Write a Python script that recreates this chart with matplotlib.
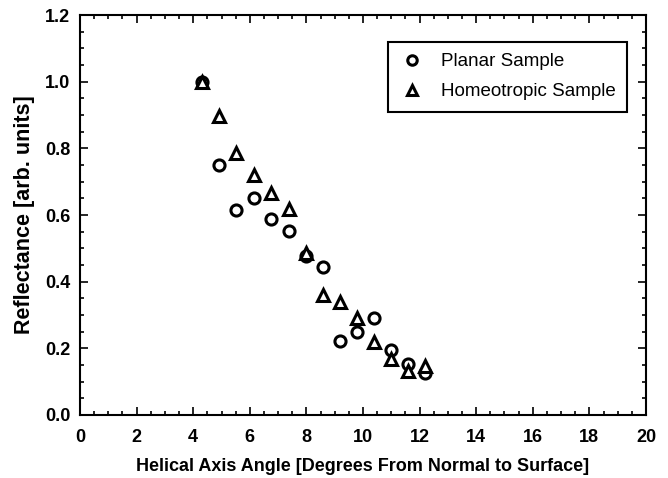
import numpy as np
import matplotlib
matplotlib.use("Agg")
import matplotlib.pyplot as plt
from matplotlib.ticker import MultipleLocator

plt.rcParams['font.family'] = ['Liberation Sans', 'DejaVu Sans']

# data
planar_x = [4.3, 4.9, 5.5, 6.15, 6.75, 7.4, 8.0, 8.6, 9.2, 9.8, 10.4, 11.0, 11.6, 12.2]
planar_y = [1.0, 0.75, 0.615, 0.65, 0.587, 0.552, 0.477, 0.443, 0.223, 0.248, 0.29, 0.194, 0.153, 0.127]

homeo_x = [4.3, 4.9, 5.5, 6.15, 6.75, 7.4, 8.0, 8.6, 9.2, 9.8, 10.4, 11.0, 11.6, 12.2]
homeo_y = [1.0, 0.898, 0.787, 0.72, 0.667, 0.618, 0.487, 0.359, 0.339, 0.29, 0.22, 0.168, 0.133, 0.148]

fig = plt.figure(figsize=(6.68, 4.78), dpi=100)
ax = fig.add_axes([0.1198, 0.1318, 0.8472, 0.8368])

ax.plot(planar_x, planar_y, 'o', mfc='white', mec='black', mew=2.2, ms=8,
        ls='none', label='Planar Sample')
ax.plot(homeo_x, homeo_y, '^', mfc='white', mec='black', mew=2.2, ms=8,
        ls='none', label='Homeotropic Sample')

ax.set_xlim(0, 20)
ax.set_ylim(0, 1.2)
ax.xaxis.set_major_locator(MultipleLocator(2))
ax.xaxis.set_minor_locator(MultipleLocator(0.5))
ax.yaxis.set_major_locator(MultipleLocator(0.2))
ax.yaxis.set_minor_locator(MultipleLocator(0.05))
ax.yaxis.set_major_formatter(plt.FormatStrFormatter('%.1f'))

ax.tick_params(which='both', direction='in', top=True, right=True, width=1.2)
ax.tick_params(which='major', length=6, labelsize=13)
ax.tick_params(axis='x', which='major', pad=10)
ax.tick_params(axis='y', which='major', pad=7)
ax.tick_params(which='minor', length=3)
for lab in ax.get_xticklabels() + ax.get_yticklabels():
    lab.set_fontweight('bold')
for s in ax.spines.values():
    s.set_linewidth(1.5)

ax.set_xlabel('Helical Axis Angle [Degrees From Normal to Surface]',
              fontsize=13, fontweight='bold', labelpad=9)
ax.set_ylabel('Reflectance [arb. units]', fontsize=15.5, fontweight='bold', labelpad=7)

leg = ax.legend(loc='upper right', bbox_to_anchor=(0.966, 0.933), fontsize=13.5,
                fancybox=False, edgecolor='black', framealpha=1,
                handletextpad=0.9, borderpad=0.6, labelspacing=0.7,
                handlelength=1.3, borderaxespad=0, markerscale=0.85)
leg.get_frame().set_linewidth(1.5)

fig.savefig('out.png', dpi=100)
